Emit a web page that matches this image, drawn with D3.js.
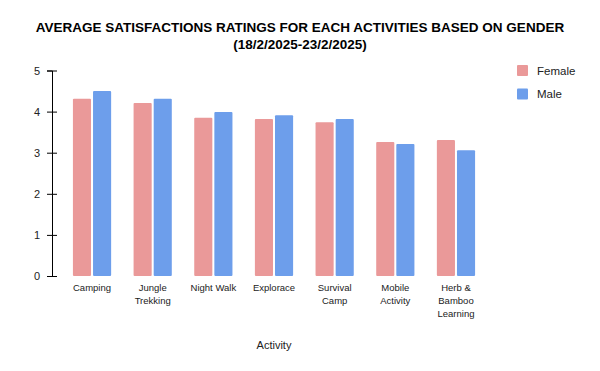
<!DOCTYPE html>
<html>
<head>
<meta charset="utf-8">
<script src="https://cdn.jsdelivr.net/npm/d3@7"></script>
<style>
  body { margin: 0; background: #fff; }
  text { font-family: "Liberation Sans", Arial, sans-serif; }
</style>
</head>
<body>
<div id="chart"></div>
<script>
// data
const activities = [["Camping"], ["Jungle", "Trekking"], ["Night Walk"], ["Explorace"],
  ["Survival", "Camp"], ["Mobile", "Activity"], ["Herb &", "Bamboo", "Learning"]];
const seriesNames = ["Female", "Male"];
const female = [4.31, 4.21, 3.85, 3.82, 3.74, 3.26, 3.31];
const male = [4.50, 4.31, 3.99, 3.91, 3.82, 3.21, 3.06];
const yTicks = [0, 1, 2, 3, 4, 5];

const width = 600, height = 371;
const colors = ["#ea9999", "#6d9eeb"];

let svg = d3.select('#chart').append('svg')
	.attr('width', width)
	.attr('height', height);

let x = d3.scaleBand()
	.domain(d3.range(activities.length))
	.range([61.7, 486.3])
	.paddingInner(0.37)
	.paddingOuter(0.185);

let xs = d3.scaleBand()
	.domain(seriesNames)
	.range([0, x.bandwidth()])
	.paddingInner(0.1);

let y = d3.scaleLinear().domain([0, 5]).range([276, 70.5]);

// title
let title = svg.append('text')
	.attr('x', 300)
	.attr('text-anchor', 'middle')
	.style('font-size', '13.5px')
	.style('font-weight', 'bold')
	.attr('fill', '#000');
title.append('tspan').attr('x', 300).attr('y', 32)
	.text('AVERAGE SATISFACTIONS RATINGS FOR EACH ACTIVITIES BASED ON GENDER');
title.append('tspan').attr('x', 300).attr('y', 49)
	.text('(18/2/2025-23/2/2025)');

// bars
let rows = activities.map((a, i) => [female[i], male[i]]);
let groups = svg.selectAll('g.grp').data(rows).enter().append('g')
	.attr('class', 'grp')
	.attr('transform', (d, i) => 'translate(' + x(i) + ',0)');

groups.selectAll('rect').data(d => d).enter().append('rect')
	.attr('x', (d, j) => xs(seriesNames[j]))
	.attr('y', d => y(d))
	.attr('width', xs.bandwidth())
	.attr('height', d => y(0) - y(d))
	.attr('rx', 1)
	.attr('fill', (d, j) => colors[j]);

// y axis
let yAxis = svg.append('g')
	.attr('transform', 'translate(52,0)')
	.call(d3.axisLeft(y).tickValues(yTicks).tickFormat(d3.format('d')).tickSize(5).tickPadding(6));
yAxis.select('.domain').attr('stroke', '#000').attr('stroke-width', 1);
yAxis.selectAll('.tick line').attr('x2', 5).attr('x1', -5).attr('stroke', '#000');
yAxis.selectAll('.tick text')
	.attr('x', -12)
	.style('font-size', '11px')
	.style('font-family', '"Liberation Sans", Arial, sans-serif')
	.attr('fill', '#222');

// x labels
let xl = svg.selectAll('text.xl').data(activities).enter().append('text')
	.attr('class', 'xl')
	.attr('text-anchor', 'middle')
	.style('font-size', '9.5px')
	.attr('fill', '#222')
	.attr('transform', (d, i) => 'translate(' + (x(i) + x.bandwidth() / 2) + ',0)');
xl.selectAll('tspan').data(d => d).enter().append('tspan')
	.attr('x', 0)
	.attr('y', (d, k) => 291 + k * 13)
	.text(d => d);

// x axis title
svg.append('text')
	.attr('x', (x.range()[0] + x.range()[1]) / 2)
	.attr('y', 349)
	.attr('text-anchor', 'middle')
	.style('font-size', '11px')
	.attr('fill', '#222')
	.text('Activity');

// legend
let leg = svg.selectAll('g.leg').data(seriesNames).enter().append('g')
	.attr('class', 'leg')
	.attr('transform', (d, i) => 'translate(517,' + (65 + i * 23.5) + ')');
leg.append('rect')
	.attr('width', 11).attr('height', 11).attr('rx', 1)
	.attr('fill', (d, i) => colors[i]);
leg.append('text')
	.attr('x', 20).attr('y', 9.5)
	.style('font-size', '11.5px')
	.attr('fill', '#222')
	.text(d => d);
</script>
</body>
</html>
